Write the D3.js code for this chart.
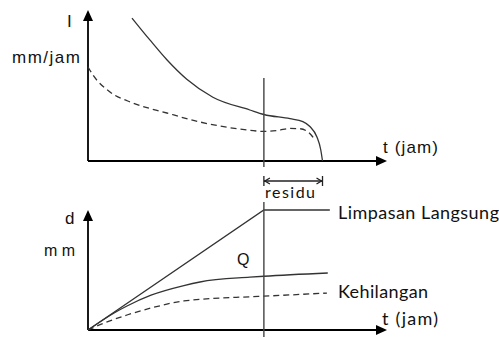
<!DOCTYPE html>
<html>
<head>
<meta charset="utf-8">
<script src="https://cdn.jsdelivr.net/npm/d3@7"></script>
<style>
  body { margin: 0; background: #fff; }
  svg { display: block; }
  .ar { font-family: 'Liberation Sans', Arial, sans-serif; fill: #111; }
  .cb { font-family: Lato, 'Open Sans', sans-serif; fill: #111; }
</style>
</head>
<body>
<div id="chart"></div>
<script>
// hyetograph (top): time in hours, intensity in mm/jam
const rainT = [1.5, 2.11, 2.69, 3.37, 4.26, 5.52, 6.0, 6.89, 7.33, 7.57, 7.81, 7.94, 8.0]
const rainI = [9.53, 8.07, 6.75, 5.45, 4.25, 3.4, 3.1, 2.82, 2.62, 2.3, 1.6, 0.75, 0]
const infT = [0, 0.17, 0.75, 1.53, 2.69, 3.82, 5.52, 6.0, 6.5, 6.89, 7.23, 7.46, 7.67, 7.74]
const infI = [6.27, 5.73, 4.6, 3.87, 3.2, 2.6, 2.05, 1.97, 2.05, 2.17, 2.15, 2.0, 1.6, 1.4]

// cumulative depth (bottom): mm
const directT = [0, 6, 8.25]
const directD = [0, 10, 10]
const qT = [0, 0.89, 1.33, 2.15, 3.27, 3.82, 5.52, 6, 8.18]
const qD = [0, 1.42, 2.0, 2.9, 3.7, 4.0, 4.4, 4.48, 4.75]
const lossT = [0, 0.55, 1.33, 2.15, 3.27, 5.52, 6, 8.15]
const lossD = [0, 0.58, 1.25, 1.83, 2.42, 2.77, 2.82, 3.08]

const tRainEnd = 6, tResidu = 8, tMax = 10.2

const W = 499, H = 340
const svg = d3.select('#chart').append('svg').attr('width', W).attr('height', H)

const x = d3.scaleLinear().domain([0, tMax]).range([88, 387])
const yI = d3.scaleLinear().domain([0, 10]).range([161, 11])
const yD = d3.scaleLinear().domain([0, 10]).range([330, 210])

const zip = (a, b) => a.map((v, i) => [v, b[i]])

function axes (y, top) {
  let g = svg.append('g')
  g.append('line').attr('x1', x(0)).attr('x2', x(0)).attr('y1', y(0)).attr('y2', top + 8)
    .attr('stroke', '#000').attr('stroke-width', 1.8)
  g.append('line').attr('x1', x(0)).attr('x2', x(tMax) - 8).attr('y1', y(0)).attr('y2', y(0))
    .attr('stroke', '#000').attr('stroke-width', 1.8)
  g.append('path').attr('d', `M${x(0)},${top}L${x(0) - 5},${top + 11}L${x(0) + 5},${top + 11}Z`)
  g.append('path').attr('d', `M${x(tMax)},${y(0)}L${x(tMax) - 11},${y(0) - 5}L${x(tMax) - 11},${y(0) + 5}Z`)
}

function curve (pts, y, dashed, linear) {
  let line = d3.line().x(d => x(d[0])).y(d => y(d[1]))
    .curve(linear ? d3.curveLinear : d3.curveMonotoneX)
  svg.append('path').attr('d', line(pts)).attr('fill', 'none')
    .attr('stroke', '#333').attr('stroke-width', 1.3)
    .attr('stroke-dasharray', dashed ? '6,4' : null)
}

// top chart
axes(yI, 10)
curve(zip(rainT, rainI), yI)
curve(zip(infT, infI), yI, true)
svg.append('line').attr('x1', x(tRainEnd)).attr('x2', x(tRainEnd))
  .attr('y1', yI(5.53)).attr('y2', yI(0) + 6).attr('stroke', '#444').attr('stroke-width', 1.4)

// residu arrow
let ry = 181
svg.append('line').attr('x1', x(tRainEnd)).attr('x2', x(tResidu)).attr('y1', ry).attr('y2', ry)
  .attr('stroke', '#222').attr('stroke-width', 1.3)
svg.append('path').attr('fill', 'none').attr('stroke', '#222').attr('stroke-width', 1.3)
  .attr('d', `M${x(tRainEnd)},${ry - 5}V${ry + 5}M${x(tResidu)},${ry - 5}V${ry + 5}` +
    `M${x(tRainEnd) + 6},${ry - 3}L${x(tRainEnd) + 1},${ry}L${x(tRainEnd) + 6},${ry + 3}` +
    `M${x(tResidu) - 6},${ry - 3}L${x(tResidu) - 1},${ry}L${x(tResidu) - 6},${ry + 3}`)

// bottom chart
axes(yD, 210)
curve(zip(directT, directD), yD, false, true)
curve(zip(qT, qD), yD)
curve(zip(lossT, lossD), yD, true)
svg.append('line').attr('x1', x(tRainEnd)).attr('x2', x(tRainEnd))
  .attr('y1', yD(10.67)).attr('y2', yD(0) + 7).attr('stroke', '#444').attr('stroke-width', 1.4)

// labels
function label (txt, lx, ly, cls, size, len) {
  let t = svg.append('text').attr('class', cls).attr('x', lx).attr('y', ly)
    .attr('font-size', size).text(txt)
  if (len) t.attr('textLength', len).attr('lengthAdjust', 'spacing')
}
label('I', 67, 27, 'ar', 17)
label('mm/jam', 12, 63, 'ar', 17, 68)
label('t (jam)', 383, 153, 'ar', 17, 55)
label('residu', 265, 198, 'cb', 16, 50)
label('d', 65, 224, 'ar', 17)
label('mm', 44, 256, 'ar', 16, 31)
label('Q', 237, 265, 'ar', 16)
label('Limpasan Langsung', 338, 219, 'cb', 18, 161)
label('Kehilangan', 338, 298, 'cb', 18, 90)
label('t (jam)', 382, 325, 'cb', 18, 56)
</script>
</body>
</html>
